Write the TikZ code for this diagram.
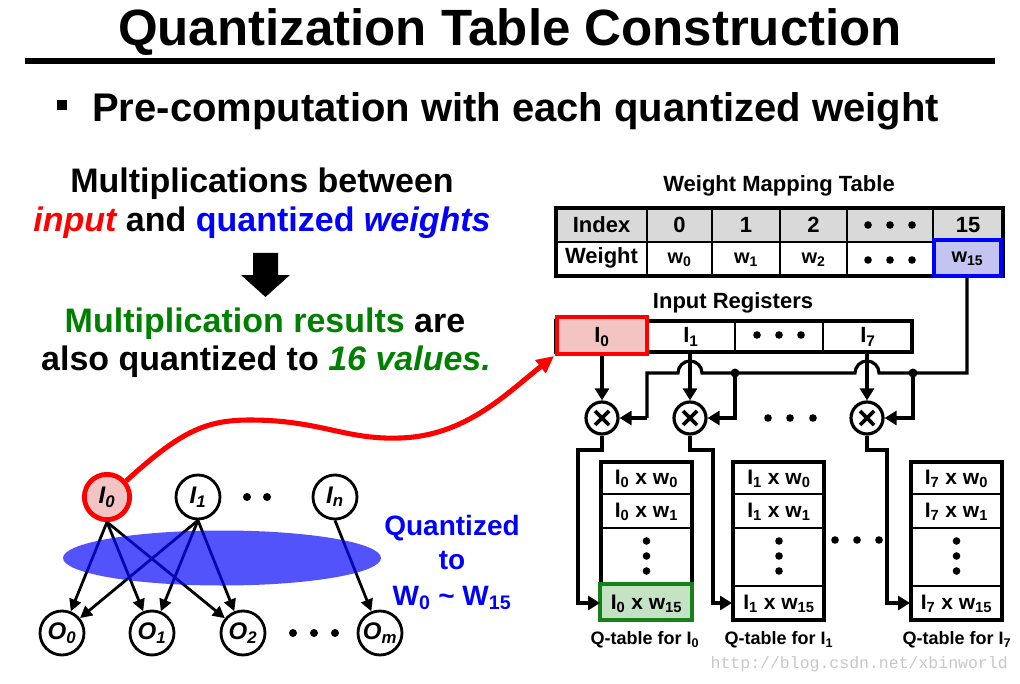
\documentclass[tikz,border=0pt]{standalone}
\usepackage{fontspec}
\usepackage{graphicx}
\setmainfont{Liberation Sans}
\setmonofont{Liberation Mono}
\usetikzlibrary{arrows.meta,calc}
\definecolor{myred}{RGB}{255,0,0}
\definecolor{myblue}{RGB}{0,0,255}
\definecolor{mygreen}{RGB}{0,128,0}
\definecolor{boxgreen}{RGB}{20,130,20}
\definecolor{pinkfill}{RGB}{244,196,196}
\definecolor{greenfill}{RGB}{196,226,196}
\definecolor{bluefill}{RGB}{196,196,240}
\definecolor{grayfill}{RGB}{217,217,217}
\definecolor{ellblue}{RGB}{10,10,250}
\newcommand\fz[1]{\fontsize{\fpeval{#1*0.75}pt}{\fpeval{#1*0.9}pt}\selectfont}
\begin{document}
\begin{tikzpicture}[x=0.75pt,y=-0.75pt,
  txt/.style={inner sep=0pt, font=\bfseries},
  wire/.style={line width=2.4pt},
  arr/.style={-{Triangle[length=9pt,width=10.5pt]}},
  mult/.style={circle, draw, line width=2.4pt, minimum size=24pt, inner sep=0pt},
  netnode/.style={circle, draw, line width=2.1pt, minimum size=33pt, inner sep=0pt, font=\fz{24}\bfseries\itshape},
  edge/.style={line width=2.1pt, -{Triangle[length=9pt,width=9pt]}},
  tbl/.style={line width=2.6pt},
  sep/.style={line width=2.2pt}
]
\useasboundingbox (0,0) rectangle (1020,684);

% ---------- title ----------
\node[txt, anchor=base] (title) at (510,46) {\fz{51}Quantization Table Construction};
\draw[line width=3.8pt] (25,61) -- (995,61);
\fill (57,100) rectangle (67,110);
\node[txt, anchor=base west] (sub) at (92,122) {\fz{40}Pre-computation with each quantized weight};

% ---------- left text ----------
\node[txt, anchor=base] (l1) at (262,193) {\fz{34}Multiplications between};
\node[txt, anchor=base] (l2) at (262,232) {\fz{34}{\color{myred}\itshape input} and {\color{myblue}quantized \itshape weights}};
\fill (253,253) -- (278,253) -- (278,275) -- (290,275) -- (265.5,297) -- (241,275) -- (253,275) -- cycle;
\node[txt, anchor=base] (l3) at (265,332) {\fz{34}{\color{mygreen}Multiplication results} are};
\node[txt, anchor=base] (l4) at (266,370) {\fz{34}also quantized to {\color{mygreen}\itshape 16 values.}};

% ---------- weight mapping table ----------
\node[txt, anchor=base] (wmt) at (779,192) {\fz{22}Weight Mapping Table};
\fill[grayfill] (556,208) rectangle (1003,242);
\draw[tbl] (556,208) rectangle (1003,276);
\draw[sep] (556,242) -- (1003,242);
\foreach \xx in {647,712,780,847,933} \draw[sep] (\xx,208) -- (\xx,276);
\draw[myblue, line width=3pt, fill=bluefill] (934,240) rectangle (1001,276);
\node[txt] (hidx) at (601.5,225) {\fz{22}Index};
\node[txt] (h0) at (679.5,225) {\fz{22}0};
\node[txt] (h1) at (746,225) {\fz{22}1};
\node[txt] (h2) at (813.5,225) {\fz{22}2};
\node[txt] (h15) at (968,225) {\fz{22}15};
\node[txt] (hw) at (601.5,258) {\fz{22}Weight};
\node[txt] (w0) at (679.5,260) {\fz{20}w\textsubscript{0}};
\node[txt] (w1) at (746,260) {\fz{20}w\textsubscript{1}};
\node[txt] (w2) at (813.5,260) {\fz{20}w\textsubscript{2}};
\node[txt] (w15) at (967.5,259) {\fz{20}w\textsubscript{15}};
\foreach \xx in {868,890,912} {\fill (\xx,225) circle (3.8); \fill (\xx,260) circle (3.8);}
\coordinate (wout) at (967,278);

% ---------- input registers ----------
\node[txt, anchor=base] (irt) at (733,308) {\fz{22}Input Registers};
\draw[tbl] (556,321) rectangle (912,352);
\foreach \xx in {648,735,823} \draw[sep] (\xx,321) -- (\xx,352);
\draw[myred, line width=3pt, fill=pinkfill] (557,317) rectangle (647,354);
\node[txt] (r0) at (602,337) {\fz{22}I\textsubscript{0}};
\node[txt] (r1) at (691,337) {\fz{22}I\textsubscript{1}};
\node[txt] (r7) at (868,337) {\fz{22}I\textsubscript{7}};
\foreach \xx in {757,779,801} \fill (\xx,335) circle (3.8);
\coordinate (r0b) at (602,356);
\coordinate (r1b) at (690,353);
\coordinate (r7b) at (867,353);
\coordinate (redbl) at (554,356);

% ---------- multipliers ----------
\node[mult] (m0) at (602,418) {};
\node[mult] (m1) at (690,418) {};
\node[mult] (m7) at (867,418) {};
\foreach \m in {m0,m1,m7} {
  \draw[line width=2.8pt] ([shift={(-7,-7)}]\m.center) -- ([shift={(7,7)}]\m.center);
  \draw[line width=2.8pt] ([shift={(-7,7)}]\m.center) -- ([shift={(7,-7)}]\m.center);
}
\foreach \xx in {768,790,813} \fill (\xx,418) circle (3.8);

\draw[wire,arr] (r0b) -- (m0);
\draw[wire,arr] (r1b) -- (m1);
\draw[wire,arr] (r7b) -- (m7);

\coordinate (jr) at (913,373);
\coordinate (jl) at (735,373);
\draw[wire] (wout) |- (jr) -- (879,373) arc[start angle=0, end angle=-180, radius=12]
  -- (jl) -- (702,373) arc[start angle=0, end angle=-180, radius=12] -- (647,373) -- (647,418);
\draw[wire,arr] (647,418) -- (m0);
\draw[wire,arr] (jl) |- (m1);
\draw[wire,arr] (jr) |- (m7);
\fill (jl) circle (4.5);
\fill (jr) circle (4.5);

% ---------- Q tables ----------
\foreach \L/\k/\cx in {601/0/646.5, 733/1/779, 911/7/956.5} {
  \draw[tbl] (\L,462) rectangle ++(91,158);
  \foreach \yy in {494,528,586} \draw[sep] (\L,\yy) -- ++(91,0);
  \node[txt] (q\k a) at (\cx,479) {\fz{21}I\textsubscript{\k} x w\textsubscript{0}};
  \node[txt] (q\k b) at (\cx,512) {\fz{21}I\textsubscript{\k} x w\textsubscript{1}};
  \foreach \yy in {541,556,571} \fill (\cx,\yy) circle (3.8);
}
\draw[boxgreen, line width=3pt, fill=greenfill] (600,584) rectangle (692,620);
\foreach \k/\cx in {0/646.5, 1/779, 7/956.5}
  \node[txt] (q\k d) at (\cx,604) {\fz{21}I\textsubscript{\k} x w\textsubscript{15}};
\foreach \xx in {835,857,879} \fill (\xx,540) circle (3.8);

\coordinate (t0in) at (600,603);
\coordinate (t1in) at (732,603);
\coordinate (t7in) at (910,603);
\draw[wire,arr] (m0.south) |- (578,450) |- (t0in);
\draw[wire,arr] (m1.south) |- (713,450) |- (t1in);
\draw[wire,arr] (m7.south) |- (887,450) |- (t7in);

\node[txt] (lab0) at (645,640) {\fz{18}Q-table for I\textsubscript{0}};
\node[txt] (lab1) at (779,640) {\fz{18}Q-table for I\textsubscript{1}};
\node[txt] (lab7) at (957,640) {\fz{18}Q-table for I\textsubscript{7}};

% ---------- network ----------
\node[netnode, draw=myred, line width=3.6pt, fill=pinkfill, minimum size=34pt] (i0) at (107,497) {I\textsubscript{0}};
\node[netnode] (i1) at (198,497) {I\textsubscript{1}};
\node[netnode] (in) at (335,497) {I\textsubscript{n}};
\node[netnode] (o0) at (62,633) {O\textsubscript{0}};
\node[netnode] (o1) at (152,633) {O\textsubscript{1}};
\node[netnode] (o2) at (243,633) {O\textsubscript{2}};
\node[netnode] (om) at (380,633) {O\textsubscript{m}};
\foreach \xx in {247,267} \fill (\xx,497) circle (4);
\foreach \xx in {293,314,335} \fill (\xx,633) circle (4);

\foreach \o in {o0,o1,o2} {
  \draw[edge] (i0.south) -- (\o);
  \draw[edge] (i1.south) -- (\o);
}
\draw[edge] (in.south) -- (om);
\fill[ellblue, opacity=0.7] (222,558) ellipse [x radius=159, y radius=27.5];

\node[txt, text=myblue, anchor=base] (qz1) at (452,535) {\fz{28}Quantized};
\node[txt, text=myblue, anchor=base] (qz2) at (452,569) {\fz{28}to};
\node[txt, text=myblue, anchor=base] (qz3) at (452,605) {\fz{28}W\textsubscript{0} \textasciitilde{} W\textsubscript{15}};

% ---------- red curve ----------
\draw[myred, line width=3.8pt, -{Triangle[length=13pt,width=12pt]}]
  (i0.40) .. controls (180,432) and (205,420) .. (250,420)
  .. controls (320,420) and (345,440) .. (400,438)
  .. controls (465,436) and (505,395) .. (redbl);

% ---------- watermark ----------
\node[anchor=base east, inner sep=0pt, text=black!22, font=\fz{16.5}\ttfamily] (wm) at (1008,668) {http://blog.csdn.net/xbinworld};
\end{tikzpicture}
\end{document}
